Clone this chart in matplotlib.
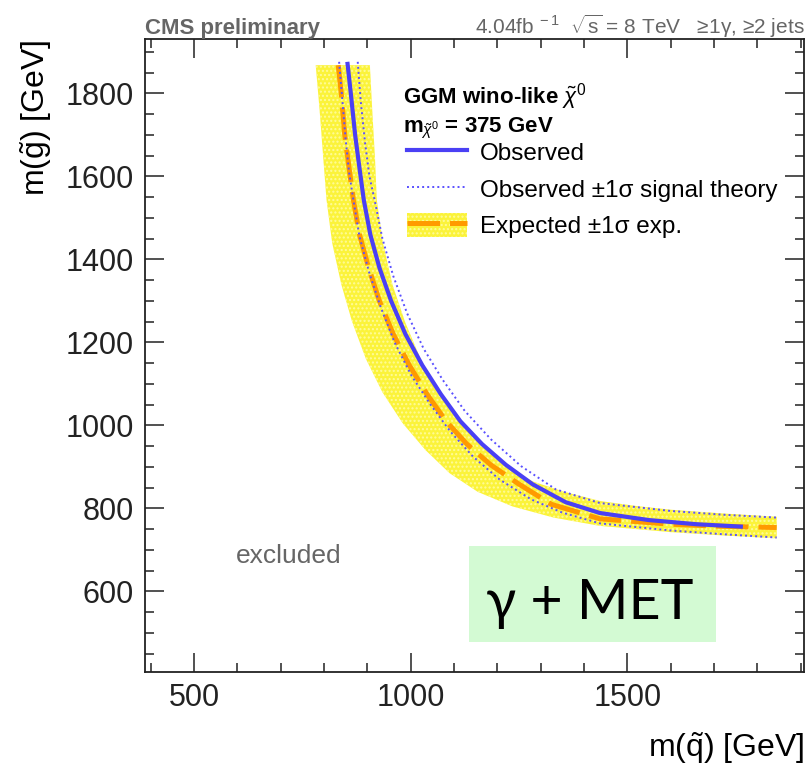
import numpy as np
import matplotlib
matplotlib.use('Agg')
from matplotlib import pyplot as plt
from matplotlib.lines import Line2D
from matplotlib.patches import Patch, Rectangle
from matplotlib.ticker import MultipleLocator

plt.rcParams['font.family'] = ['Liberation Sans', 'DejaVu Sans']
plt.rcParams['mathtext.fontset'] = 'custom'
plt.rcParams['mathtext.rm'] = 'Liberation Sans'
plt.rcParams['mathtext.it'] = 'Liberation Sans:italic'
plt.rcParams['mathtext.bf'] = 'Liberation Sans:bold'
plt.rcParams['hatch.linewidth'] = 1.0

# ---- limit curves: (m_squark, m_gluino) in GeV ----
obs_x = [854, 862, 872, 882, 892, 907, 928, 955, 988, 1027, 1070, 1115, 1165, 1220, 1282, 1358, 1437, 1550, 1660, 1767]
obs_y = [1876, 1800, 1700, 1620, 1543, 1460, 1380, 1300, 1220, 1145, 1075, 1010, 955, 905, 858, 815, 789, 772, 762, 756]

exp_x = [833, 840, 848, 858, 868, 882, 903, 928, 960, 997, 1038, 1082, 1130, 1185, 1248, 1325, 1437, 1600, 1720, 1845]
exp_y = [1868, 1800, 1700, 1620, 1543, 1460, 1380, 1300, 1220, 1145, 1075, 1010, 955, 905, 860, 810, 775, 762, 757, 754]

band_up_x = [906, 912, 918, 922, 936, 958, 987, 1023, 1065, 1112, 1165, 1220, 1282, 1355, 1437, 1520, 1600, 1720, 1845]
band_up_y = [1868, 1750, 1640, 1543, 1440, 1340, 1250, 1160, 1080, 1010, 950, 900, 865, 840, 818, 806, 797, 788, 780]
band_dn_x = [781, 790, 798, 806, 819, 840, 865, 897, 935, 982, 1035, 1090, 1155, 1235, 1330, 1437, 1600, 1720, 1845]
band_dn_y = [1868, 1760, 1650, 1543, 1440, 1340, 1250, 1160, 1080, 1005, 940, 885, 840, 805, 778, 758, 743, 735, 728]

obs_up_x = [878, 885, 895, 905, 917, 935, 960, 992, 1030, 1074, 1125, 1186, 1255, 1335, 1437, 1600, 1720, 1845]
obs_up_y = [1876, 1780, 1680, 1600, 1543, 1450, 1360, 1270, 1185, 1110, 1035, 966, 902, 846, 813, 794, 785, 778]
obs_dn_x = [835, 842, 850, 858, 868, 882, 904, 931, 963, 1002, 1046, 1092, 1144, 1205, 1278, 1350, 1437, 1600, 1720, 1845]
obs_dn_y = [1876, 1790, 1690, 1610, 1543, 1455, 1370, 1285, 1200, 1120, 1050, 985, 925, 870, 822, 790, 764, 747, 738, 730]

W, H = 812, 767


def fx(px):
    return px / W


def fy(py):
    return 1 - py / H


fig = plt.figure(figsize=(W / 100, H / 100), dpi=100)
ax = fig.add_axes([fx(145), fy(672), fx(804) - fx(145), fy(39) - fy(672)])

blue = '#4a40f4'
orange = '#ff9a00'
band_face = '#fbf33a'
band_hatch = '#fffb9a'

# yellow expected band (closed polygon: upper edge then lower edge reversed)
poly_x = band_up_x + band_dn_x[::-1]
poly_y = band_up_y + band_dn_y[::-1]
ax.fill(poly_x, poly_y, facecolor=band_face, edgecolor=band_hatch, hatch='....', linewidth=0, zorder=1)

ax.plot(exp_x, exp_y, color=orange, lw=3.6, dashes=(6.5, 2.0), zorder=2)
ax.plot(obs_up_x, obs_up_y, color='#5a50ff', lw=1.4, linestyle=(0, (1, 1.6)), zorder=3)
ax.plot(obs_dn_x, obs_dn_y, color='#5a50ff', lw=1.4, linestyle=(0, (1, 1.6)), zorder=3)
ax.plot(obs_x, obs_y, color=blue, lw=3.0, zorder=4, solid_capstyle='butt')

ax.set_xlim(387, 1908)
ax.set_ylim(406, 1931)
ax.xaxis.set_major_locator(MultipleLocator(500))
ax.xaxis.set_minor_locator(MultipleLocator(100))
ax.yaxis.set_major_locator(MultipleLocator(200))
ax.yaxis.set_minor_locator(MultipleLocator(50))
ax.tick_params(which='both', direction='in', top=True, right=True, colors='#222222',
               labelsize=22, width=1.1)
ax.tick_params(which='major', length=13.5, pad=8)
ax.tick_params(which='minor', length=6.8)
for s in ax.spines.values():
    s.set_linewidth(1.3)
    s.set_color('#222222')

# axis titles
fig.text(fx(804), fy(748), r'm($\tilde{\mathrm{q}}$) [GeV]', ha='right', va='center', fontsize=23)
fig.text(fx(36), fy(40), r'm($\tilde{\mathrm{g}}$) [GeV]', ha='center', va='top', rotation=90, fontsize=23)

# header texts
fig.text(fx(145), fy(34), 'CMS preliminary', ha='left', va='baseline', fontsize=16,
         fontweight='bold', color='#666666')
fig.text(fx(805), fy(34), r'4.04fb$^{\ -1}$  $\sqrt{\mathrm{s}}$ = 8 TeV   ≥1γ, ≥2 jets', ha='right',
         va='baseline', fontsize=15, color='#666666')

# legend header
fig.text(fx(403), fy(103), r'GGM wino-like $\tilde{\chi}^{0}$', ha='left', va='baseline',
         fontsize=16, fontweight='bold')
fig.text(fx(403), fy(132), r'm$_{\tilde{\chi}^{0}}$ = 375 GeV', ha='left', va='baseline',
         fontsize=16, fontweight='bold')

h_obs = Line2D([], [], color=blue, lw=3.0)
h_th = Line2D([], [], color='#5a50ff', lw=1.4, linestyle=(0, (1, 1.6)))
h_exp = (Patch(facecolor=band_face, edgecolor=band_hatch, hatch='....', linewidth=0),
         Line2D([], [], color=orange, lw=3.6, dashes=(6.5, 2.0)))
leg = ax.legend([h_obs, h_th, h_exp],
                ['Observed', 'Observed ±1σ signal theory', 'Expected ±1σ exp.'],
                loc='upper left', bbox_to_anchor=(fx(407), fy(140)), bbox_transform=fig.transFigure,
                frameon=False, fontsize=17.5, borderpad=0, borderaxespad=0,
                handlelength=2.47, handleheight=1.1, handletextpad=0.53, labelspacing=0.48)

# labels inside the plot
fig.text(fx(289), fy(556), 'excluded', ha='center', va='center', fontsize=19, color='#666666')

fig.patches.append(Rectangle((fx(469), fy(642)), fx(716) - fx(469), fy(546) - fy(642),
                             transform=fig.transFigure, facecolor='#d3fad3', edgecolor='none', zorder=5))
fig.text(fx(590), fy(619), 'γ + MET', ha='center', va='baseline', fontsize=40,
         family=['Lato', 'Noto Sans', 'DejaVu Sans'], zorder=6)

fig.savefig('out.png', dpi=100)
